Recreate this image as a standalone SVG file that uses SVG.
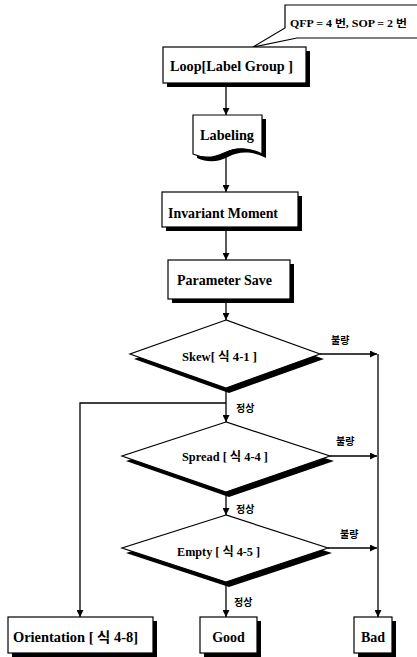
<svg xmlns="http://www.w3.org/2000/svg" width="417" height="657" viewBox="0 0 417 657">
<style>
.box{fill:#fff;stroke:#000;stroke-width:1.2}
.sh{fill:#000}
.t{font-family:"Liberation Serif","Noto Sans CJK KR",serif;font-weight:bold;fill:#000}
.m{font-size:14px}
.s{font-size:12px}
.k{font-size:10px}
.c{stroke:#000;stroke-width:1.3;fill:none}
</style>
<defs>
<marker id="ah" viewBox="0 0 10 10" refX="10" refY="5" markerWidth="7" markerHeight="7" markerUnits="userSpaceOnUse" orient="auto">
<path d="M0,0 L10,5 L0,10 z" fill="#000"/>
</marker>
</defs>
<g id="connectors">
<line class="c" x1="226" y1="83" x2="226" y2="115" marker-end="url(#ah)"/>
<line class="c" x1="226" y1="157" x2="226" y2="192" marker-end="url(#ah)"/>
<line class="c" x1="226" y1="227" x2="226" y2="260" marker-end="url(#ah)"/>
<line class="c" x1="226" y1="300" x2="226" y2="320" marker-end="url(#ah)"/>
<line class="c" x1="226" y1="390" x2="226" y2="422" marker-end="url(#ah)"/>
<path class="c" d="M226,403 H80 V617" marker-end="url(#ah)"/>
<line class="c" x1="320" y1="354" x2="377" y2="354" marker-end="url(#ah)"/>
<path class="c" d="M378,354 V617" marker-end="url(#ah)"/>
<line class="c" x1="330" y1="456" x2="377" y2="456" marker-end="url(#ah)"/>
<line class="c" x1="226" y1="494" x2="226" y2="515" marker-end="url(#ah)"/>
<line class="c" x1="328" y1="548" x2="377" y2="548" marker-end="url(#ah)"/>
<line class="c" x1="226" y1="584" x2="226" y2="617" marker-end="url(#ah)"/>
<text class="t k" x="331" y="344">불량</text>
<text class="t k" x="336" y="445">불량</text>
<text class="t k" x="340" y="538">불량</text>
<text class="t k" x="236" y="412">정상</text>
<text class="t k" x="236" y="513">정상</text>
<text class="t k" x="234" y="606">정상</text>
</g>
<g id="callout">
<path class="box" d="M285,5 H420 V38 H297 L253,47 L285,28 Z"/>
<text class="t" font-size="10" x="290" y="27" textLength="117" lengthAdjust="spacingAndGlyphs">QFP = 4  번, SOP = 2  번</text>
</g>
<g id="loop">
<rect class="sh" x="167" y="51" width="143" height="36"/>
<rect class="box" x="163" y="47" width="143" height="36"/>
<text class="t m" x="170" y="71" textLength="123" lengthAdjust="spacingAndGlyphs">Loop[Label Group ]</text>
</g>
<g id="labeling">
<path class="sh" d="M197,119 H266 V158 C250,150 238,152 228,157 C218,162 208,163 197,158 Z"/>
<path class="box" d="M193,115 H262 V154 C246,146 234,148 224,153 C214,158 204,159 193,154 Z"/>
<text class="t m" x="200" y="140" textLength="54" lengthAdjust="spacingAndGlyphs">Labeling</text>
</g>
<g id="invariant">
<rect class="sh" x="166" y="196" width="136" height="35"/>
<rect class="box" x="162" y="192" width="136" height="35"/>
<text class="t m" x="168" y="218" textLength="110" lengthAdjust="spacingAndGlyphs">Invariant Moment</text>
</g>
<g id="param">
<rect class="sh" x="172" y="264" width="122" height="39"/>
<rect class="box" x="168" y="260" width="122" height="39"/>
<text class="t m" x="177" y="285" textLength="95" lengthAdjust="spacingAndGlyphs">Parameter Save</text>
</g>
<g id="skew">
<polygon class="sh" points="229,326 134,359 229,393 324,359"/>
<polygon class="box" points="226,320 130,354 226,388 320,354"/>
<text class="t s" x="182" y="361" textLength="75" lengthAdjust="spacingAndGlyphs">Skew[ 식 4-1 ]</text>
</g>
<g id="spread">
<polygon class="sh" points="229,428 126,461 229,497 334,461"/>
<polygon class="box" points="226,422 122,456 226,492 330,456"/>
<text class="t s" x="182" y="461" textLength="86" lengthAdjust="spacingAndGlyphs">Spread [ 식 4-4 ]</text>
</g>
<g id="empty">
<polygon class="sh" points="229,521 126,553 229,587 332,553"/>
<polygon class="box" points="226,515 122,548 226,582 328,548"/>
<text class="t s" x="177" y="556" textLength="83" lengthAdjust="spacingAndGlyphs">Empty [ 식 4-5 ]</text>
</g>
<g id="orientation">
<rect class="sh" x="12" y="621" width="145" height="36"/>
<rect class="box" x="8" y="617" width="145" height="36"/>
<text class="t m" x="13" y="642" textLength="125" lengthAdjust="spacingAndGlyphs">Orientation [ 식 4-8]</text>
</g>
<g id="good">
<rect class="sh" x="204" y="621" width="57" height="36"/>
<rect class="box" x="200" y="617" width="57" height="36"/>
<text class="t m" x="228.5" y="642" text-anchor="middle">Good</text>
</g>
<g id="bad">
<rect class="sh" x="358" y="621" width="38" height="36"/>
<rect class="box" x="354" y="617" width="38" height="36"/>
<text class="t m" x="373" y="642" text-anchor="middle">Bad</text>
</g>
</svg>
